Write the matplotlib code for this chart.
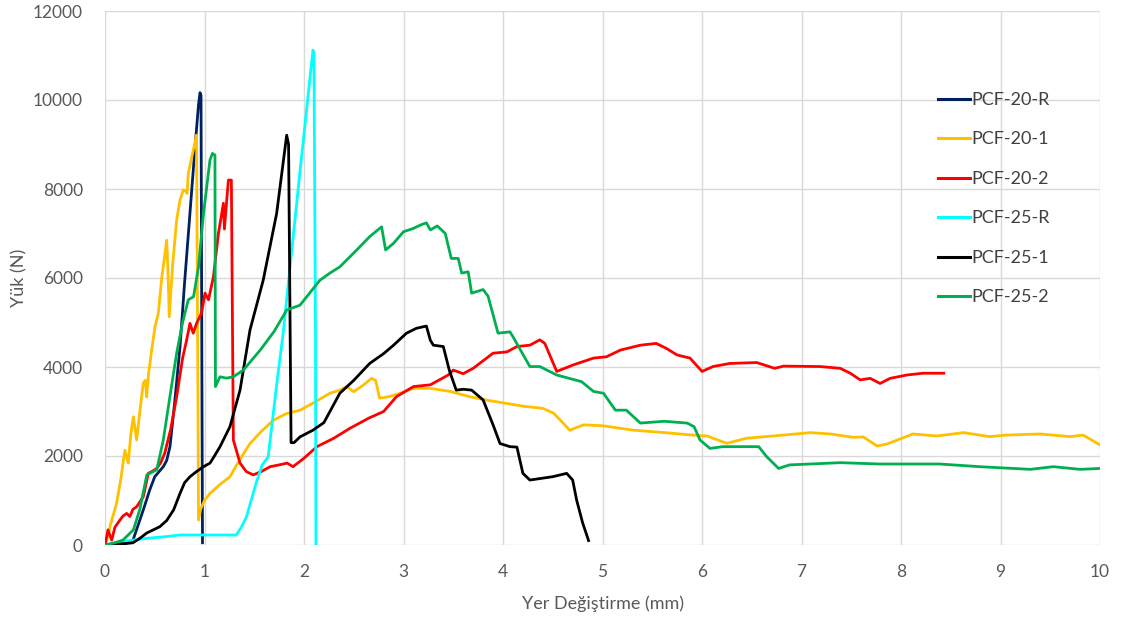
import matplotlib
matplotlib.use("Agg")
import matplotlib.pyplot as plt

# ---------------- data ----------------
labels = ["PCF-20-R", "PCF-20-1", "PCF-20-2", "PCF-25-R", "PCF-25-1", "PCF-25-2"]
colors = ["#002060", "#FFC000", "#FF0000", "#00FFFF", "#000000", "#00B050"]

x_20R = [0, 0.1, 0.2, 0.28, 0.385, 0.45, 0.50, 0.586, 0.62, 0.653, 0.7, 0.754, 0.8, 0.854,
         0.9, 0.94, 0.955, 0.965, 0.975, 0.98]
y_20R = [0, 0, 30, 100, 790, 1240, 1535, 1760, 1900, 2210, 3200, 4456, 5900, 7460,
         8800, 9900, 10165, 10100, 3000, 50]

x_201 = [0, 0.017, 0.06, 0.117, 0.16, 0.2, 0.234, 0.26, 0.285, 0.318, 0.35, 0.385, 0.405, 0.419,
         0.435, 0.47, 0.503, 0.536, 0.57, 0.6, 0.62, 0.635, 0.646, 0.68, 0.72, 0.754, 0.787, 0.81,
         0.825, 0.837, 0.87, 0.9, 0.92, 0.93, 0.94, 0.96, 1.0, 1.055, 1.15, 1.256, 1.35, 1.457,
         1.57, 1.69, 1.82, 1.96, 2.1, 2.26, 2.36, 2.43, 2.5, 2.6, 2.68, 2.72, 2.76, 2.86, 2.965,
         3.1, 3.27, 3.47, 3.67, 3.85, 4.04, 4.2, 4.40, 4.51, 4.6, 4.67, 4.81, 5.0, 5.31, 5.6,
         5.91, 6.05, 6.25, 6.45, 6.72, 7.09, 7.29, 7.52, 7.62, 7.76, 7.86, 8.12, 8.36, 8.63,
         8.89, 9.06, 9.40, 9.70, 9.83, 10.0]
y_201 = [0, 110, 500, 940, 1500, 2130, 1840, 2500, 2880, 2360, 3000, 3640, 3700, 3330,
         3800, 4400, 4910, 5210, 6000, 6500, 6850, 6000, 5130, 6300, 7300, 7750, 7980, 7950,
         7900, 8350, 8700, 9000, 9210, 5000, 560, 800, 1000, 1160, 1350, 1535, 1900, 2280,
         2550, 2800, 2950, 3030, 3200, 3410, 3480, 3560, 3445, 3600, 3745, 3700, 3300, 3335, 3410,
         3520, 3520, 3450, 3330, 3250, 3180, 3120, 3070, 2960, 2750, 2580, 2700, 2680, 2580, 2530,
         2470, 2450, 2285, 2400, 2450, 2525, 2495, 2420, 2430, 2225, 2270, 2495, 2450, 2525,
         2435, 2470, 2495, 2435, 2470, 2250]

x_202 = [0, 0.03, 0.067, 0.1, 0.15, 0.18, 0.218, 0.25, 0.28, 0.318, 0.385, 0.435, 0.47, 0.52,
         0.56, 0.60, 0.66, 0.72, 0.78, 0.82, 0.854, 0.887, 0.92, 0.97, 1.005, 1.04, 1.09, 1.14,
         1.19, 1.2, 1.24, 1.27, 1.29, 1.357, 1.42, 1.49, 1.57, 1.66, 1.75, 1.83, 1.89, 2.0,
         2.13, 2.3, 2.46, 2.65, 2.8, 2.93, 3.1, 3.27, 3.45, 3.5, 3.6, 3.7, 3.9, 4.04, 4.14,
         4.27, 4.37, 4.42, 4.54, 4.71, 4.91, 5.04, 5.18, 5.38, 5.54, 5.64, 5.75, 5.88, 5.96,
         6.0, 6.11, 6.28, 6.55, 6.73, 6.82, 7.19, 7.39, 7.49, 7.59, 7.69, 7.79, 7.89, 8.06,
         8.22, 8.43]
y_202 = [0, 340, 110, 400, 560, 650, 710, 640, 800, 860, 1085, 1610, 1650, 1720,
         1850, 2060, 2600, 3330, 4200, 4600, 4980, 4760, 4980, 5210, 5660, 5510, 6030, 7000,
         7680, 7100, 8200, 8200, 2360, 1840, 1650, 1575, 1650, 1760, 1800, 1840, 1760, 1950,
         2210, 2400, 2620, 2850, 3000, 3335, 3560, 3600, 3820, 3930, 3850, 3970, 4310, 4340, 4460,
         4490, 4610, 4530, 3900, 4050, 4200, 4230, 4380, 4490, 4530, 4420, 4270, 4200, 4000,
         3900, 4010, 4080, 4100, 3970, 4020, 4010, 3970, 3860, 3710, 3745, 3630, 3745, 3820,
         3860, 3860]

x_25R = [0, 0.1, 0.28, 0.42, 0.62, 0.75, 1.0, 1.32, 1.37, 1.42, 1.52, 1.58, 1.64, 1.725,
         1.79, 1.96, 2.09, 2.1, 2.115, 2.12]
y_25R = [0, 50, 110, 150, 190, 225, 225, 225, 400, 620, 1400, 1800, 1980, 3600,
         4750, 8400, 11120, 11050, 5000, 0]

x_251 = [0, 0.1, 0.2, 0.28, 0.35, 0.42, 0.55, 0.62, 0.69, 0.754, 0.8, 0.854, 0.92, 0.99,
         1.055, 1.1, 1.156, 1.256, 1.357, 1.457, 1.59, 1.725, 1.826, 1.845, 1.87, 1.9, 1.96,
         2.09, 2.2, 2.36, 2.5, 2.66, 2.8, 2.90, 3.03, 3.13, 3.23, 3.27, 3.3, 3.40, 3.46, 3.53,
         3.6, 3.685, 3.80, 3.9, 3.97, 4.07, 4.14, 4.2, 4.27, 4.5, 4.64, 4.70, 4.74, 4.8, 4.86]
y_251 = [0, 20, 30, 50, 150, 270, 410, 550, 790, 1160, 1400, 1535, 1650, 1760,
         1840, 2000, 2210, 2660, 3480, 4830, 5950, 7450, 9210, 9000, 2300, 2300, 2430,
         2580, 2750, 3410, 3700, 4080, 4300, 4490, 4760, 4870, 4920, 4600, 4490, 4460, 3930, 3480,
         3500, 3480, 3260, 2700, 2280, 2210, 2200, 1610, 1460, 1535, 1610, 1460, 1010, 500, 100]

x_252 = [0, 0.1, 0.18, 0.285, 0.35, 0.42, 0.52, 0.586, 0.65, 0.72, 0.78, 0.837, 0.89, 0.94,
         0.99, 1.055, 1.08, 1.105, 1.11, 1.156, 1.22, 1.29, 1.39, 1.56, 1.7, 1.826, 1.96, 2.16,
         2.26, 2.36, 2.53, 2.66, 2.78, 2.82, 2.90, 3.0, 3.1, 3.17, 3.23, 3.27, 3.34, 3.42, 3.48,
         3.55, 3.585, 3.65, 3.685, 3.8, 3.85, 3.95, 4.07, 4.1, 4.27, 4.37, 4.54, 4.79, 4.91,
         5.01, 5.13, 5.24, 5.38, 5.62, 5.85, 5.92, 5.98, 6.08, 6.21, 6.57, 6.65, 6.77, 6.88,
         7.39, 7.79, 8.39, 8.79, 9.30, 9.53, 9.8, 10.0]
y_252 = [0, 50, 110, 340, 800, 1575, 1690, 2360, 3300, 4310, 5000, 5510, 5580, 6250,
         7450, 8650, 8800, 8760, 3560, 3780, 3750, 3780, 3930, 4380, 4800, 5280, 5390, 5950,
         6110, 6250, 6630, 6930, 7150, 6630, 6780, 7040, 7115, 7190, 7240, 7080, 7170, 7000, 6440,
         6440, 6110, 6140, 5660, 5740, 5590, 4760, 4790, 4680, 4010, 4010, 3820, 3670, 3450,
         3410, 3030, 3030, 2740, 2780, 2740, 2660, 2360, 2170, 2210, 2210, 1985, 1720, 1800,
         1850, 1820, 1820, 1760, 1700, 1760, 1700, 1720]

xs = [x_20R, x_201, x_202, x_25R, x_251, x_252]
ys = [y_20R, y_201, y_202, y_25R, y_251, y_252]

x_ticks = list(range(0, 11))
y_ticks = list(range(0, 12001, 2000))
x_label = "Yer Değiştirme (mm)"
y_label = "Yük (N)"

# ---------------- figure ----------------
plt.rcParams['font.family'] = ['Lato', 'DejaVu Sans']
fig = plt.figure(figsize=(11.23, 6.24), dpi=100)
ax = fig.add_axes([105 / 1123, 1 - 545 / 624, (1100 - 105) / 1123, (545 - 11) / 624])

for xv, yv, c, lab in zip(xs, ys, colors, labels):
    ax.plot(xv, yv, color=c, lw=2.0, label=lab, solid_joinstyle='round', zorder=3)

ax.set_xlim(0, 10)
ax.set_ylim(0, 12000)
ax.set_xticks(x_ticks)
ax.set_yticks(y_ticks)
ax.grid(True, color="#D9D9D9", lw=1.0, zorder=0)
ax.set_axisbelow(True)
for s in ax.spines.values():
    s.set_visible(False)
ax.tick_params(axis='both', length=0, labelsize=12.5, colors="#595959")
ax.tick_params(axis='y', pad=16)
ax.tick_params(axis='x', pad=14)

ax.set_xlabel(x_label, fontsize=13, color="#595959", labelpad=11)
ax.set_ylabel(y_label, fontsize=13, color="#595959", labelpad=4)

leg = ax.legend(loc='upper left', bbox_to_anchor=(938 / 1123, 1 - 92 / 624),
                bbox_transform=fig.transFigure, frameon=False, fontsize=13,
                handlelength=1.75, handletextpad=0.12, labelspacing=1.3,
                borderpad=0, borderaxespad=0)
for t in leg.get_texts():
    t.set_color("#404040")
for h in leg.get_lines():
    h.set_linewidth(2.2)

fig.savefig("out.png", dpi=100)
